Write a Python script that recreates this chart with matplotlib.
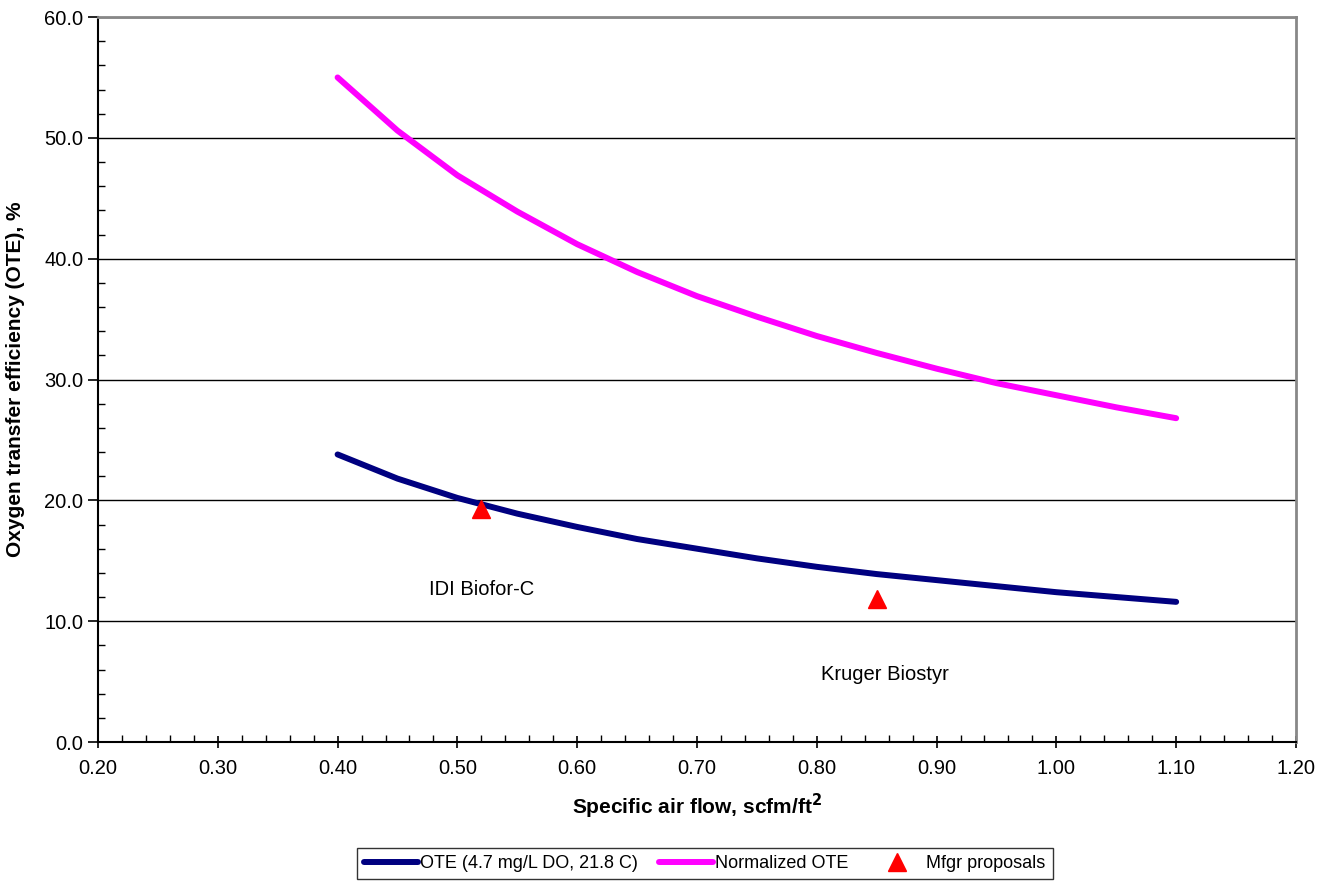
import numpy as np
import matplotlib.pyplot as plt
from matplotlib.ticker import MultipleLocator, FormatStrFormatter

plt.rcParams['font.family'] = ['Liberation Sans', 'DejaVu Sans']

# -----------------------------
# data
# -----------------------------
air_flow = [0.40, 0.45, 0.50, 0.55, 0.60, 0.65, 0.70, 0.75,
            0.80, 0.85, 0.90, 0.95, 1.00, 1.05, 1.10]
ote = [23.8, 21.8, 20.2, 18.9, 17.8, 16.8, 16.0, 15.2,
       14.5, 13.9, 13.4, 12.9, 12.4, 12.0, 11.6]
ote_norm = [55.0, 50.6, 46.9, 43.9, 41.2, 38.9, 36.9, 35.2,
            33.6, 32.2, 30.9, 29.7, 28.7, 27.7, 26.8]

mfgr_x = [0.52, 0.85]
mfgr_y = [19.3, 11.8]
mfgr_names = ["IDI Biofor-C", "Kruger Biostyr"]
name_x = [0.52, 0.857]
name_y = [12.6, 5.6]

# -----------------------------
# figure
# -----------------------------
fig = plt.figure(figsize=(13.37, 8.82), dpi=100)
ax = fig.add_axes([0.0733, 0.1587, 0.896, 0.822])

ax.plot(air_flow, ote, color='#000080', lw=4.3, solid_capstyle='round',
        label="OTE (4.7 mg/L DO, 21.8 C)", zorder=3)
ax.plot(air_flow, ote_norm, color='#FF00FF', lw=4.3, solid_capstyle='round',
        label="Normalized OTE", zorder=3)
ax.plot(mfgr_x, mfgr_y, ls='none', marker='^', ms=13, color='#FF0000',
        label="Mfgr proposals", zorder=4)

for nx, ny, nm in zip(name_x, name_y, mfgr_names):
    ax.text(nx, ny, nm, ha='center', va='center', fontsize=14.5)

ax.set_xlim(0.20, 1.20)
ax.set_ylim(0, 60)
ax.xaxis.set_major_locator(MultipleLocator(0.1))
ax.xaxis.set_minor_locator(MultipleLocator(0.02))
ax.yaxis.set_major_locator(MultipleLocator(10))
ax.yaxis.set_minor_locator(MultipleLocator(2))
ax.xaxis.set_major_formatter(FormatStrFormatter('%.2f'))
ax.yaxis.set_major_formatter(FormatStrFormatter('%.1f'))

ax.grid(axis='y', which='major', color='black', lw=1.0, zorder=1)
ax.tick_params(axis='both', which='major', labelsize=14.5, length=8,
               direction='inout', width=1.2, color='black')
ax.tick_params(axis='y', which='major', direction='out', length=7)
ax.tick_params(axis='both', which='minor', length=5, direction='in',
               width=1.0, color='black')
ax.tick_params(axis='x', pad=8)

for side in ['left', 'bottom']:
    ax.spines[side].set_linewidth(1.5)
    ax.spines[side].set_color('black')
for side in ['top', 'right']:
    ax.spines[side].set_linewidth(2.0)
    ax.spines[side].set_color('#888888')

ax.set_xlabel("Specific air flow, scfm/ft$^\\mathbf{2}$", fontsize=15,
              fontweight='bold', labelpad=10)
ax.set_ylabel("Oxygen transfer efficiency (OTE), %", fontsize=15,
              fontweight='bold', labelpad=14)

leg = fig.legend(loc='center', bbox_to_anchor=(0.527, 0.021), ncol=3,
                 fontsize=13, frameon=True, fancybox=False, edgecolor='black',
                 handlelength=3.0, handletextpad=0.1, columnspacing=1.2,
                 borderpad=0.4)
leg.get_frame().set_linewidth(1.0)

fig.savefig('out.png', dpi=100)
